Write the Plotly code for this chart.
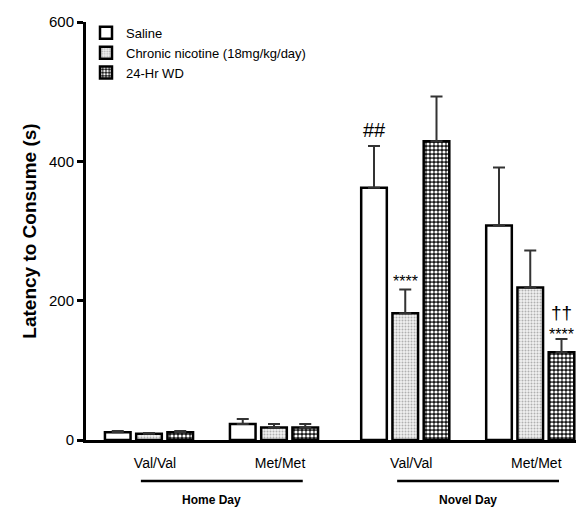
import plotly.graph_objects as go

groups = ["Val/Val", "Met/Met", "Val/Val", "Met/Met"]
days = ["Home Day", "Novel Day"]
series = ["Saline", "Chronic nicotine (18mg/kg/day)", "24-Hr WD"]
saline = [11, 23, 362, 308]
saline_err = [2, 7, 60, 83]
nicotine = [9, 18, 182, 219]
nicotine_err = [1, 5, 34, 53]
wd = [11, 18, 429, 126]
wd_err = [2, 5, 64, 19]

FONT = "Liberation Sans, Arial, sans-serif"
DAY_GAP = 0.05  # extra spacing between the two day blocks (axis units)
xs = [i + DAY_GAP * (i // 2) for i in range(len(groups))]

styles = [
    dict(fillcolor="white", fgcolor="black", bgcolor="white", shape="", size=4, solidity=0.3),
    dict(fillcolor="#ececec", fgcolor="#b0b0b0", bgcolor="#f2f2f2", shape=".", size=3, solidity=0.35),
    dict(fillcolor="#1a1a1a", fgcolor="white", bgcolor="#1a1a1a", shape=".", size=4, solidity=0.5),
]

fig = go.Figure()
for name, vals, errs, st in zip(series, [saline, nicotine, wd],
                                [saline_err, nicotine_err, wd_err], styles):
    fig.add_trace(go.Bar(
        x=xs, y=vals, name=name,
        marker=dict(color=st["fillcolor"],
                    line=dict(color="black", width=2.5),
                    pattern=dict(shape=st["shape"], fgcolor=st["fgcolor"],
                                 bgcolor=st["bgcolor"], size=st["size"],
                                 solidity=st["solidity"], fillmode="replace")),
        error_y=dict(type="data", symmetric=False, array=errs,
                     arrayminus=[0] * len(errs), color="#333333",
                     thickness=2, width=6),
    ))

fig.update_layout(
    width=576, height=502,
    margin=dict(l=78, r=0, t=14, b=70),
    paper_bgcolor="white", plot_bgcolor="white",
    barmode="group", bargap=0.25, bargroupgap=0.18,
    font=dict(family=FONT, color="black"),
    showlegend=True,
    legend=dict(x=0.0, y=1.01, xanchor="left", yanchor="top",
                font=dict(size=13, family=FONT), bgcolor="rgba(0,0,0,0)",
                itemwidth=30),
    xaxis=dict(range=[-0.504, 3.48], tickvals=xs, ticktext=groups,
               showline=True, linecolor="black", linewidth=3,
               ticks="", showgrid=False, zeroline=False,
               tickfont=dict(size=14, family=FONT), ticklabelshift=6,
               ticklabelstandoff=8),
    yaxis=dict(range=[0, 600], tickvals=[0, 200, 400, 600],
               showline=True, linecolor="black", linewidth=3,
               ticks="outside", ticklen=6, tickwidth=3, tickcolor="black",
               showgrid=False, zeroline=False,
               tickfont=dict(size=15, family=FONT),
               title=dict(text="<b>Latency to Consume (s)</b>",
                          font=dict(size=19, family=FONT), standoff=8)),
)

# significance marks
offs = {0: -31, 1: 0, 2: 31}
marks = [
    (0, 2, saline, saline_err, "##", 3, 20),
    (1, 2, nicotine, nicotine_err, "****", -2, 16),
    (2, 3, wd, wd_err, "****", -6, 16),
    (2, 3, wd, wd_err, "††", 14, 19),
]
for si, gi, vals, errs, txt, shift, fs in marks:
    fig.add_annotation(x=xs[gi], y=vals[gi] + errs[gi], xref="x", yref="y",
                       text=txt, showarrow=False, xshift=offs[si],
                       yanchor="bottom", yshift=shift,
                       font=dict(size=fs, family=FONT, color="black"))

# day group labels and underlines
for (a, b), day in zip([(0, 1), (2, 3)], days):
    fig.add_shape(type="line", xref="x", yref="paper",
                  x0=xs[a] - 0.065, x1=xs[b] + 0.23, y0=-0.098, y1=-0.098,
                  line=dict(color="black", width=2.5))
    fig.add_annotation(x=(xs[a] + xs[b]) / 2, y=-0.1435, xref="x", yref="paper",
                       text="<b>" + day + "</b>", showarrow=False,
                       yanchor="middle", font=dict(size=12, family=FONT))

fig.write_html("out.html")
